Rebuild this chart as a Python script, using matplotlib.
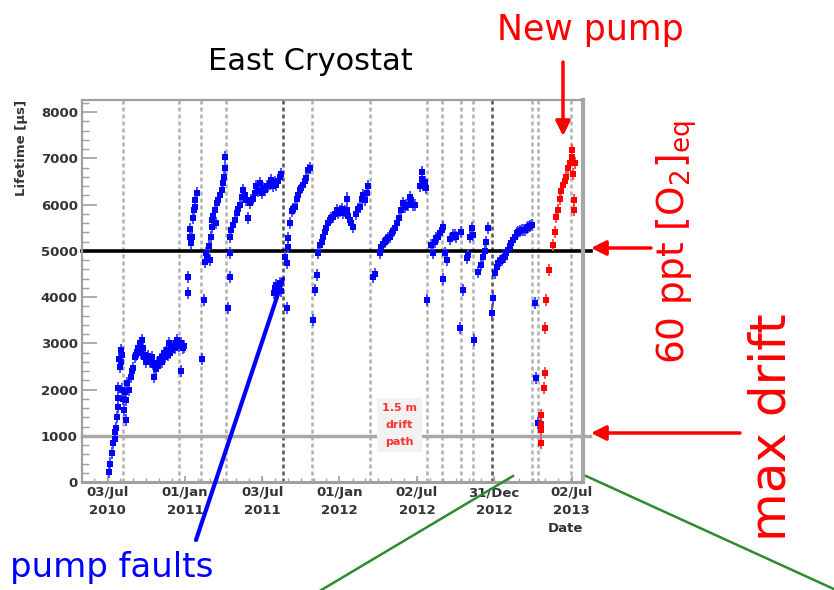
import numpy as np
import matplotlib
matplotlib.use("Agg")
import matplotlib.pyplot as plt
import matplotlib.dates as mdates
from matplotlib.patches import FancyArrowPatch
from matplotlib.lines import Line2D

plt.rcParams["mathtext.default"] = "regular"

# Electron lifetime measurements, time given as days since 2010-01-01
EPOCH = np.datetime64("2010-01-01")

blue_days = [
    185, 189, 193, 196, 199, 201, 203, 205, 206, 207, 208, 209, 211, 213, 215, 217, 217, 219,
    221, 223, 225, 226, 229, 233, 237, 240, 242, 246, 249, 252, 255, 258, 260, 262, 264, 266,
    268, 271, 273, 276, 279, 282, 284, 287, 289, 292, 293, 296, 299, 302, 305, 307, 310, 312,
    315, 318, 320, 323, 325, 327, 330, 332, 335, 338, 341, 344, 347, 350, 355, 356, 360, 362,
    372, 373, 376, 378, 380, 382, 384, 386, 388, 390, 394,
    406, 410, 412, 414, 418, 421, 424, 426, 428, 429, 432, 436, 438, 440, 444, 448, 452, 455,
    457, 459, 460,
    467, 471, 471, 472, 475, 479, 483, 487, 491, 495, 499, 502, 506, 510, 514, 518, 522, 526,
    530, 534, 538, 542, 546, 550, 554, 558, 561, 565, 569, 573, 577, 581, 585, 589, 593,
    575, 577, 581, 585, 589, 593, 605,
    601, 605, 608, 609, 613, 617, 621, 625, 629, 632, 636, 640, 644, 648, 652, 656, 660,
    668, 672, 676, 680, 684, 688, 691, 695, 699, 703, 707, 711, 715, 719, 723, 727, 731, 735,
    739, 743, 747, 748, 751, 754, 758, 762, 770, 774, 778, 782, 786, 790, 794, 798,
    810, 813, 825, 829, 833, 837, 841, 845, 849, 853, 857, 861, 865, 870, 876, 880, 884, 888,
    892, 896, 900, 904, 908, 920, 924, 926, 928, 931, 935,
    937, 947, 951, 955, 959, 963, 967, 971, 975, 975, 979, 983, 990, 998, 1002, 1006, 1014,
    1018, 1022, 1030, 1034, 1038, 1042, 1046, 1047, 1057, 1063, 1069, 1073, 1077, 1081, 1089,
    1093, 1097, 1101, 1105, 1109, 1113, 1116, 1120, 1124, 1128, 1132, 1136, 1140, 1144, 1148,
    1152, 1156, 1160, 1164, 1168, 1172, 1176, 1180, 1184, 1191, 1195, 1199,
]
blue_lifetime = [
    220, 400, 620, 840, 940, 1090, 1160, 1410, 1630, 1810, 2030, 2670, 2490, 2600, 2850, 2750, 2000, 1800,
    1560, 1950, 1770, 1340, 2150, 1990, 2280, 2400, 2470, 2700, 2750, 2820, 2900, 2950, 3000, 2800, 3070, 2900,
    2710, 2750, 2600, 2670, 2720, 2600, 2640, 2700, 2550, 2530, 2280, 2450, 2570, 2500, 2650, 2640, 2700, 2600,
    2780, 2700, 2800, 2850, 2750, 3000, 2800, 2900, 2850, 2950, 2900, 3000, 3070, 2950, 3000, 2390, 2900, 2930,
    4080, 4440, 5300, 5480, 5160, 5300, 5700, 5880, 5950, 6100, 6240,
    2670, 3940, 4760, 4950, 4870, 5100, 4800, 5300, 5520, 5670, 5750, 5880, 5600, 6030, 6100, 6200, 6310, 6460,
    6600, 6780, 7030,
    3760, 4440, 4950, 5300, 5450, 5560, 5670, 5810, 5900, 5990, 6170, 6310, 6200, 6100, 5700, 6030, 6100, 6130,
    6250, 6390, 6300, 6460, 6240, 6350, 6310, 6400, 6390, 6450, 6530, 6400, 6490, 6420, 6500, 6600, 6670,
    4080, 4190, 4250, 4220, 4300, 4120, 3760,
    4870, 4730, 5090, 5270, 5600, 5850, 5900, 5950, 6130, 6200, 6310, 6350, 6420, 6500, 6570, 6750, 6780,
    3500, 4150, 4480, 4950, 5120, 5200, 5300, 5400, 5490, 5600, 5670, 5700, 5740, 5800, 5880, 5820, 5850, 5900,
    5810, 5850, 5880, 6130, 5750, 5670, 5600, 5520, 5800, 5900, 5950, 6130, 6200, 6100, 6240, 6390,
    4440, 4500, 4950, 5090, 5150, 5200, 5230, 5270, 5300, 5380, 5420, 5490, 5590, 5700, 5880, 6030, 5950, 6000,
    5990, 6170, 6100, 6000, 5990, 6400, 6710, 6550, 6420, 6490, 6350,
    3940, 5120, 4950, 5200, 5270, 5300, 5380, 5450, 5520, 4400, 4950, 4800, 5250, 5340, 5340, 5300, 3320,
    5410, 4150, 4850, 4910, 5300, 5490, 5340, 3070, 4550, 4700, 4870, 5000, 5200, 5490, 3650,
    3970, 4510, 4650, 4730, 4770, 4800, 4840, 4870, 4950, 5020, 5100, 5160, 5230, 5300, 5380,
    5400, 5420, 5450, 5440, 5450, 5500, 5520, 5540, 5560, 3860, 2240, 1270,
]

# After the new pump
red_days = [1205, 1206, 1206, 1207, 1214, 1215, 1216, 1218, 1225, 1234, 1238, 1242, 1246,
            1250, 1254, 1258, 1262, 1266, 1270, 1274, 1278, 1279, 1282, 1283, 1284, 1286]
red_lifetime = [1450, 1250, 1120, 840, 2030, 2350, 3320, 3940, 4580, 5120, 5400, 5740, 5880,
                6130, 6300, 6420, 6500, 6600, 6780, 6900, 7030, 7180, 6670, 6100, 5880, 6890]

lifetime_err = 130

# Pump fault dates
fault_days = [218, 351, 402, 461, 597, 665, 803, 936, 973, 1018, 1046, 1089, 1185, 1199, 1276]
fault_dark = [597, 1089]

# Reference levels
level_60ppt = 5000
level_max_drift = 1000

tick_days = [183, 365, 548, 730, 913, 1095, 1278]
tick_labels = ["03/Jul\n2010", "01/Jan\n2011", "03/Jul\n2011", "01/Jan\n2012",
               "02/Jul\n2012", "31/Dec\n2012", "02/Jul\n2013"]
x_range_days = (122, 1305)
y_range = (0, 8260)


def to_dates(days):
    return EPOCH + np.asarray(days).astype("timedelta64[D]")


def to_num(days):
    return mdates.date2num(to_dates(days))


W, H = 834, 590


def fp(x, y):
    return (x / W, 1 - y / H)


fig = plt.figure(figsize=(W / 100, H / 100), dpi=100)
fig.patch.set_facecolor("white")

ax_l, ax_r, ax_t, ax_b = 82, 583, 100, 482
ax = fig.add_axes([ax_l / W, 1 - ax_b / H, (ax_r - ax_l) / W, (ax_b - ax_t) / H])

for d in fault_days:
    col = "#555555" if d in fault_dark else "#b0b0b0"
    ax.axvline(to_num([d])[0], color=col, lw=1.8, ls=(0, (1.6, 1.2)), zorder=1)

ax.axhline(level_max_drift, xmin=0, xmax=(590 - ax_l) / (ax_r - ax_l), color="#a8a8a8",
           lw=2.5, clip_on=False, zorder=2)
ax.axhline(level_60ppt, xmin=0, xmax=(591 - ax_l) / (ax_r - ax_l), color="black",
           lw=2.6, clip_on=False, zorder=2)

ax.errorbar(to_num(blue_days), blue_lifetime, yerr=lifetime_err, fmt="s", ms=4,
            color="#0000ff", ecolor="#4040ff", elinewidth=1.3, capsize=0, mew=0, zorder=3)
ax.errorbar(to_num(red_days), red_lifetime, yerr=lifetime_err, fmt="s", ms=4,
            color="#ff0000", ecolor="#ff4040", elinewidth=1.3, capsize=0, mew=0, zorder=3)

ax.set_xlim(to_num([x_range_days[0]])[0], to_num([x_range_days[1]])[0])
ax.set_ylim(*y_range)

ax.set_xticks(to_num(tick_days))
ax.set_xticklabels(tick_labels)
ax.xaxis.set_minor_locator(mdates.MonthLocator())
ax.set_yticks(np.arange(0, 8001, 1000))
ax.set_yticks(np.arange(0, 8201, 200), minor=True)

for s in ["left", "bottom", "top"]:
    ax.spines[s].set_color("#a0a0a0")
    ax.spines[s].set_linewidth(1.6)
ax.spines["right"].set_color("#a8a8a8")
ax.spines["right"].set_linewidth(3)
ax.spines["bottom"].set_linewidth(2.2)

ax.tick_params(axis="x", which="major", direction="in", length=4, width=1.2, color="#a0a0a0",
               labelsize=9.5, labelcolor="#333333", pad=3)
ax.tick_params(axis="x", which="minor", direction="in", length=3, width=1, color="#a0a0a0")
ax.tick_params(axis="y", which="major", direction="in", length=11, width=1.2, color="#a0a0a0",
               labelsize=9.5, labelcolor="#333333", pad=3)
ax.tick_params(axis="y", which="minor", direction="in", length=5, width=1, color="#a0a0a0")
for lab in ax.get_xticklabels() + ax.get_yticklabels():
    lab.set_fontweight("bold")
    lab.set_linespacing(1.45)

fig.text(*fp(22, 100), "Lifetime [μs]", rotation=90, ha="center", va="top", fontsize=9.5,
         fontweight="bold", color="#333333")
fig.text(*fp(583, 528), "Date", ha="right", va="center", fontsize=9.5, fontweight="bold",
         color="#333333")
fig.text(*fp(310, 62), "East Cryostat", ha="center", va="center", fontsize=22, color="black")

fig.text(*fp(399, 425), "1.5 m\ndrift\npath", ha="center", va="center", fontsize=8,
         fontweight="bold", color="#ff3030", linespacing=1.9,
         bbox=dict(boxstyle="square,pad=0.45", fc="#f2f2f2", ec="none"))

# Annotations
fig.text(*fp(590, 30), "New pump", ha="center", va="center", fontsize=25, color="#ff0000")
fig.text(*fp(677, 242), "60 ppt [O$_2$]$_{eq}$", rotation=90, ha="center", va="center",
         fontsize=27, color="#ff0000")
fig.text(*fp(772, 427), "max drift", rotation=90, ha="center", va="center", fontsize=36,
         color="#ff0000")
fig.text(*fp(112, 568), "pump faults", ha="center", va="center", fontsize=24.5, color="#0000ff")


def arrow(p0, p1, color, lw=2.5, style="-|>", scale=22):
    fig.add_artist(FancyArrowPatch(fp(*p0), fp(*p1), transform=fig.transFigure,
                                   arrowstyle=style, mutation_scale=scale, lw=lw, color=color,
                                   shrinkA=0, shrinkB=0))


arrow((563, 62), (563, 136), "#ff0000")
arrow((651, 248), (591, 248), "#ff0000")
arrow((740, 433), (591, 433), "#ff0000")
arrow((196, 540), (283, 279), "#0000ff", lw=3, style="-")

for (x0, y0), (x1, y1) in [((318, 592), (513, 476)), ((586, 476), (836, 590))]:
    fig.add_artist(Line2D([x0 / W, x1 / W], [1 - y0 / H, 1 - y1 / H], transform=fig.transFigure,
                          color="#2e8b2e", lw=1.8))

fig.savefig("out.png", dpi=100)
